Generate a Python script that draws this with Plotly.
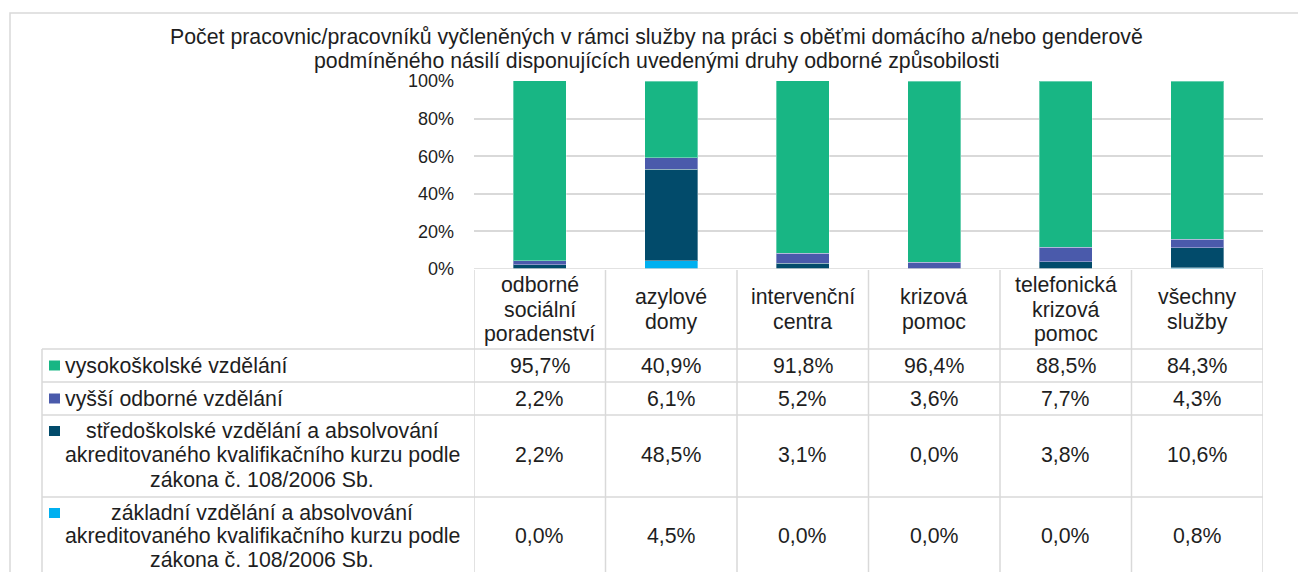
import plotly.graph_objects as go

# --- data -------------------------------------------------------------
categories = [
    "odborné sociální poradenství",
    "azylové domy",
    "intervenční centra",
    "krizová pomoc",
    "telefonická krizová pomoc",
    "všechny služby",
]
category_lines = [
    ["odborné", "sociální", "poradenství"],
    ["azylové", "domy"],
    ["intervenční", "centra"],
    ["krizová", "pomoc"],
    ["telefonická", "krizová", "pomoc"],
    ["všechny", "služby"],
]
series_names = [
    "vysokoškolské vzdělání",
    "vyšší odborné vzdělání",
    "středoškolské vzdělání a absolvování akreditovaného kvalifikačního kurzu podle zákona č. 108/2006 Sb.",
    "základní vzdělání a absolvování akreditovaného kvalifikačního kurzu podle zákona č. 108/2006 Sb.",
]
series_label_lines = [
    ["vysokoškolské vzdělání"],
    ["vyšší odborné vzdělání"],
    ["středoškolské vzdělání a absolvování",
     "akreditovaného kvalifikačního kurzu podle",
     "zákona č. 108/2006 Sb."],
    ["základní vzdělání a absolvování",
     "akreditovaného kvalifikačního kurzu podle",
     "zákona č. 108/2006 Sb."],
]
vysokoskolske = [95.7, 40.9, 91.8, 96.4, 88.5, 84.3]
vyssi_odborne = [2.2, 6.1, 5.2, 3.6, 7.7, 4.3]
stredoskolske = [2.2, 48.5, 3.1, 0.0, 3.8, 10.6]
zakladni = [0.0, 4.5, 0.0, 0.0, 0.0, 0.8]
series_values = [vysokoskolske, vyssi_odborne, stredoskolske, zakladni]
series_colors = ["#18B684", "#4A5AAB", "#024B6B", "#00B0F0"]

y_ticks = [0, 20, 40, 60, 80, 100]

title_lines = [
    "Počet pracovnic/pracovníků vyčleněných v rámci služby na práci s oběťmi domácího a/nebo genderově",
    "podmíněného násilí disponujících uvedenými druhy odborné způsobilosti",
]

# --- layout geometry (pixels) -----------------------------------------
W, H = 1298, 572
PL, PR = 474, 1263          # plot area left / right
PT, PB = 81, 269            # plot area top / bottom
FONT = "Liberation Sans, Arial, sans-serif"
TXT = "#1E1E1E"
GRID = "#D9D9D9"
FS = 21.3                   # table / title text
FS_TICK = 18                # value-axis labels
LINE_H = 24.3

def py(y):
    """pixel y -> paper y"""
    return (PB - y) / (PB - PT)

def px(x):
    """pixel x -> paper x"""
    return (x - PL) / (PR - PL)

fig = go.Figure()

# bars, stacked bottom-up: základní, středoškolské, vyšší, vysokoškolské
for name, vals, col in reversed(list(zip(series_names, series_values, series_colors))):
    fig.add_bar(
        x=categories, y=vals, name=name,
        marker=dict(color=col, line=dict(color="rgba(255,255,255,0.35)", width=1)),
        width=0.4, showlegend=False,
    )

shapes = []
annotations = []

# outer chart frame
shapes.append(dict(type="rect", xref="paper", yref="paper",
                   x0=px(10), x1=px(1310), y0=py(13), y1=py(600),
                   line=dict(color=GRID, width=1.5), layer="below"))

# title
for i, t in enumerate(title_lines):
    annotations.append(dict(text=t, xref="paper", yref="paper",
                            x=px(656), y=py(37.5 + i * 23.5),
                            xanchor="center", yanchor="middle", showarrow=False,
                            font=dict(family=FONT, size=FS, color=TXT)))

# data table rows (pixel y borders)
header_top, header_bottom = 270, 349
row_bounds = [(349, 382), (382, 415), (415, 497), (497, 579)]
row_line_h = [LINE_H, LINE_H, LINE_H, 23.4]
table_left = 42

# horizontal rules
shapes.append(dict(type="line", xref="x", yref="y", x0=-0.5, x1=len(categories) - 0.5,
                   y0=0, y1=0, line=dict(color=GRID, width=1.5)))
for top, _ in row_bounds:
    shapes.append(dict(type="line", xref="paper", yref="paper",
                       x0=px(table_left), x1=1, y0=py(top), y1=py(top),
                       line=dict(color=GRID, width=1.5)))
shapes.append(dict(type="line", xref="paper", yref="paper",
                   x0=px(table_left), x1=1, y0=py(row_bounds[-1][1]), y1=py(row_bounds[-1][1]),
                   line=dict(color=GRID, width=1.5)))
# vertical rules
shapes.append(dict(type="line", xref="paper", yref="paper",
                   x0=px(table_left), x1=px(table_left), y0=py(header_bottom), y1=py(600),
                   line=dict(color=GRID, width=1.5)))
for k in range(len(categories) + 1):
    shapes.append(dict(type="line", xref="x", yref="paper",
                       x0=k - 0.5, x1=k - 0.5, y0=py(header_top), y1=py(600),
                       line=dict(color=GRID, width=1.5)))

# category headers
hc = (header_top + header_bottom) / 2
for cat, lines in zip(categories, category_lines):
    n = len(lines)
    for j, ln in enumerate(lines):
        yy = hc + (j - (n - 1) / 2) * LINE_H
        annotations.append(dict(text=ln, xref="x", yref="paper", x=cat, y=py(yy),
                                xanchor="center", yanchor="middle", showarrow=False,
                                font=dict(family=FONT, size=FS, color=TXT)))

# legend column + values
for (top, bot), lh, lines, vals, col in zip(row_bounds, row_line_h, series_label_lines,
                                            series_values, series_colors):
    mid = (top + bot) / 2
    n = len(lines)
    first_y = (top + 16) if n > 1 else mid
    # legend key
    shapes.append(dict(type="rect", xref="paper", yref="paper",
                       x0=px(49), x1=px(60), y0=py(first_y - 5), y1=py(first_y + 5),
                       fillcolor=col, line=dict(width=0)))
    for j, ln in enumerate(lines):
        yy = first_y + j * lh
        if n == 1:
            annotations.append(dict(text=ln, xref="paper", yref="paper", x=px(63), y=py(yy),
                                    xanchor="left", yanchor="middle", showarrow=False,
                                    font=dict(family=FONT, size=FS, color=TXT)))
        else:
            annotations.append(dict(text=ln, xref="paper", yref="paper", x=px(262), y=py(yy),
                                    xanchor="center", yanchor="middle", showarrow=False,
                                    font=dict(family=FONT, size=FS, color=TXT)))
    val_y = mid if n == 1 else first_y + (n - 1) / 2 * lh
    for cat, v in zip(categories, vals):
        annotations.append(dict(text=f"{v:.1f}%".replace(".", ","), xref="x", yref="paper",
                                x=cat, y=py(val_y), xanchor="center", yanchor="middle",
                                showarrow=False, font=dict(family=FONT, size=FS, color=TXT)))

fig.update_layout(
    width=W, height=H,
    margin=dict(l=PL, r=W - PR, t=PT, b=H - PB, pad=0),
    paper_bgcolor="white", plot_bgcolor="white",
    barmode="stack", bargap=0.6,
    font=dict(family=FONT, size=FS, color=TXT),
    shapes=shapes, annotations=annotations,
    xaxis=dict(showticklabels=False, showgrid=False, zeroline=False, showline=False,
               range=[-0.5, len(categories) - 0.5], fixedrange=True),
    yaxis=dict(range=[0, 100], tickvals=y_ticks, ticktext=[f"{t}%" for t in y_ticks],
               showgrid=True, gridcolor=GRID, gridwidth=1.5, zeroline=False, showline=False,
               ticks="", ticklabelstandoff=19, tickfont=dict(family=FONT, size=FS_TICK, color=TXT),
               fixedrange=True),
)

fig.write_html("out.html")
